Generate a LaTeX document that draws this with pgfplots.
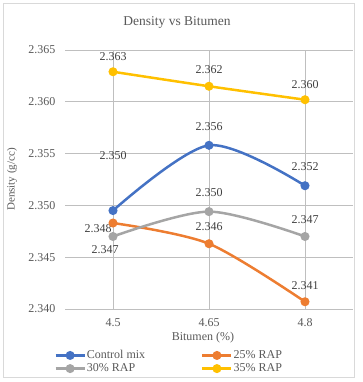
\documentclass[border=0pt]{standalone}
\usepackage{fontspec}
\setmainfont{Liberation Serif}
\usepackage{pgfplots}
\pgfplotsset{compat=1.18}
\definecolor{cblue}{HTML}{4472C4}
\definecolor{corange}{HTML}{ED7D31}
\definecolor{cgray}{HTML}{A5A5A5}
\definecolor{cyellow}{HTML}{FFC000}
\definecolor{txt}{HTML}{595959}
\definecolor{lbl}{HTML}{404040}
\definecolor{grid}{HTML}{D9D9D9}
\begin{document}
\begin{tikzpicture}
\path[use as bounding box] (0,0) rectangle (363bp,382bp);
\draw[grid, line width=0.75bp] (3bp,5bp) rectangle (354bp,379bp);
\node[txt, font=\fontsize{13.5bp}{16bp}\selectfont] at (177bp,360bp) {Density vs Bitumen};
\begin{axis}[
  at={(65bp,73bp)}, anchor=south west,
  scale only axis, width=288bp, height=259bp,
  xmin=-0.5, xmax=2.5, ymin=2.340, ymax=2.365,
  xtick={0,1,2}, xticklabels={4.5,4.65,4.8},
  ytick={2.340,2.345,2.350,2.355,2.360,2.365},
  /pgf/number format/assume math mode=true,
  yticklabel style={/pgf/number format/fixed, /pgf/number format/precision=3, /pgf/number format/fixed zerofill, xshift=-6bp},
  xticklabel style={yshift=-6bp},
  ticklabel style={font=\fontsize{12bp}{14bp}\selectfont, text=txt},
  major tick length=0pt,
  axis line style={draw=none},
  ymajorgrids, grid style={grid, line width=0.75bp},
  xlabel={Bitumen (\%)}, ylabel={Density (g/cc)},
  xlabel style={at={(axis description cs:0.479,0)}, anchor=center, yshift=-29bp, font=\fontsize{12bp}{14bp}\selectfont, text=txt},
  ylabel style={at={(axis description cs:-0.184,0.5)}, anchor=center, font=\fontsize{11bp}{13bp}\selectfont, text=txt},
  legend columns=2,
  legend cell align=left,
  legend style={at={(axis description cs:-0.048,-0.15)}, anchor=north west, draw=none, fill=none,
    font=\fontsize{12bp}{12bp}\selectfont, text=txt, row sep=2.5bp,
    nodes={inner xsep=1bp, inner ysep=0.5bp},
    /tikz/every even column/.append style={column sep=55bp}},
  legend image code/.code={\draw[mark repeat=2, mark phase=2] plot coordinates {(0bp,0bp) (14.5bp,0bp) (29bp,0bp)};},
  every axis plot/.append style={line width=2.5bp, mark=*, mark size=3.2bp, smooth, tension=0.5},
  clip=false,
]
\addplot[cblue, mark options={fill=cblue}] coordinates {(0,2.3495) (1,2.3558) (2,2.3519)};
\addlegendentry{Control mix}
\addplot[corange, mark options={fill=corange}] coordinates {(0,2.3483) (1,2.3463) (2,2.3407)};
\addlegendentry{25\% RAP}
\addplot[cgray, mark options={fill=cgray}] coordinates {(0,2.3470) (1,2.3494) (2,2.3470)};
\addlegendentry{30\% RAP}
\addplot[cyellow, mark options={fill=cyellow}] coordinates {(0,2.3629) (1,2.3615) (2,2.3602)};
\addlegendentry{35\% RAP}
\begin{scope}[every node/.style={text=lbl, font=\fontsize{12bp}{14bp}\selectfont}]
\node at (axis cs:0,2.3644) {2.363};
\node at (axis cs:1,2.3631) {2.362};
\node at (axis cs:2,2.3617) {2.360};
\node at (axis cs:0,2.3548) {2.350};
\node at (axis cs:1,2.3576) {2.356};
\node at (axis cs:2,2.3537) {2.352};
\node at (axis cs:-0.083,2.3457) {2.347};
\node at (axis cs:1,2.3512) {2.350};
\node at (axis cs:2,2.3486) {2.347};
\node at (axis cs:-0.156,2.3478) {2.348};
\node at (axis cs:1,2.3480) {2.346};
\node at (axis cs:2,2.3423) {2.341};
\end{scope}
\end{axis}
\end{tikzpicture}
\end{document}
